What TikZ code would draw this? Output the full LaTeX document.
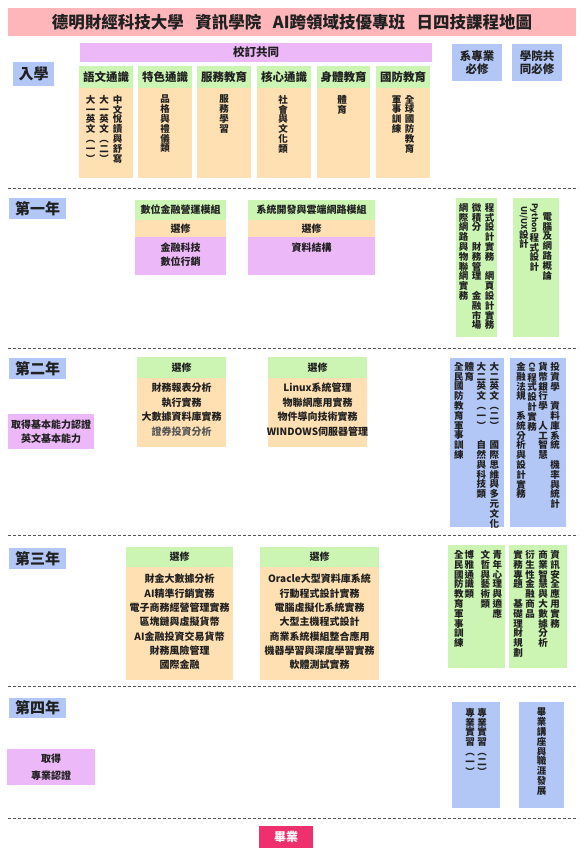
\documentclass[tikz,border=0pt]{standalone}
\usepackage{fontspec}
\setmainfont{Noto Sans CJK TC}
\usepackage{graphicx}
\definecolor{tpink}{HTML}{FFB6BA}
\definecolor{vio}{HTML}{EDB8F8}
\definecolor{grn}{HTML}{CCF5B4}
\definecolor{org}{HTML}{FFE0B2}
\definecolor{blu}{HTML}{B3C7F7}
\definecolor{gred}{HTML}{EE306E}
\definecolor{ink}{HTML}{202020}
\definecolor{sepgray}{HTML}{555555}
\makeatletter
\newcommand\rotL[1]{\rotatebox[origin=c]{-90}{\fontsize{8}{8}\selectfont #1}}
\newcommand\vcol[1]{\vtop{\baselineskip=9.8pt\lineskiplimit=0pt\lineskip=0.5pt\@tfor\vc@t:=#1\do{\hbox to 10pt{\hss\vc@t\hss}}}}
\makeatother
\newcommand\boxat[6]{\node[bx, fill=#2, minimum width={(#5-#3)*1pt}, minimum height={(#6-#4)*1pt}] (#1) at (#3,#4) {};}
\tikzset{
  bx/.style={draw=none, inner sep=0pt, outer sep=0pt, anchor=north west},
  txt/.style={inner sep=0pt, text=ink, align=center, font=\bfseries\fontsize{10}{14.3}\selectfont},
  hd/.style={txt, font=\bfseries\fontsize{11.5}{13}\selectfont},
  lab/.style={txt, font=\bfseries\fontsize{15}{18}\selectfont},
  vt/.style={inner sep=0pt, text=ink, anchor=north, font=\bfseries\fontsize{9.5}{10}\selectfont},
  sepline/.style={draw=sepgray, line width=0.8pt, dash pattern=on 3pt off 2pt}
}
\begin{document}
\begin{tikzpicture}[x=1pt,y=-1pt]
\useasboundingbox[fill=white] (0,0) rectangle (584,861);
% title
\boxat{titlebar}{tpink}{8}{8}{576}{36}
\node[txt, font=\bfseries\fontsize{16.5}{18}\selectfont] (title) at (titlebar.center) {德明財經科技大學\hspace{0.7em}資訊學院\hspace{0.7em}AI跨領域技優專班\hspace{0.7em}日四技課程地圖};
% entrance
\boxat{common}{vio}{80}{43}{432}{62}
\node[txt, font=\bfseries\fontsize{11.5}{13}\selectfont] (commont) at (common.center) {校訂共同};
\boxat{ruxue}{blu}{13}{62}{54}{86}
\node[lab] (ruxuet) at (ruxue.center) {入學};
\foreach \n/\a/\b/\t in {1/79/133/語文通識, 2/138/192/特色通識, 3/197/251/服務教育, 4/257/311/核心通識, 5/317/370/身體教育, 6/376/430/國防教育}{
  \boxat{h\n}{grn}{\a}{66}{\b}{88}
  \node[hd] (ht\n) at (h\n.center) {\t};
  \boxat{b\n}{org}{\a}{88}{\b}{178}
}
\node[vt] (v1) at (104,95) {\vcol{大一英文︵一︶}\kern3.5pt\vcol{大一英文︵二︶}\kern3.5pt\vcol{中文悅讀與舒寫}};
\node[vt] (v2) at (165,95) {\vcol{品格與禮儀類}};
\node[vt] (v3) at (224,95) {\vcol{服務學習}};
\node[vt] (v4) at (283,95) {\vcol{社會與文化類}};
\node[vt] (v5) at (342,95) {\vcol{體育}};
\node[vt] (v6) at (403,95) {\vcol{軍事訓練}\kern3pt\vcol{全球國防教育}};
\boxat{req1}{blu}{452}{44}{502}{81}
\node[hd] (req1t) at (req1.center) {系專業\\必修};
\boxat{req2}{blu}{512}{44}{562}{81}
\node[hd] (req2t) at (req2.center) {學院共\\同必修};
% separators
\foreach \yy in {188,348,535,686,818}{\draw[sepline] (8,\yy) -- (578,\yy);}
% year 1
\boxat{y1}{blu}{9}{198}{66}{219}
\node[lab] (y1t) at (y1.center) {第一年};
\boxat{m1h}{grn}{135}{200}{226}{220}
\node[txt] (m1ht) at (m1h.center) {數位金融營運模組};
\boxat{m1e}{org}{135}{220}{226}{237}
\node[txt] (m1et) at (m1e.center) {選修};
\boxat{m1b}{vio}{135}{237}{226}{275}
\node[txt, font=\bfseries\fontsize{10}{14}\selectfont, anchor=north] (m1bt) at (180.5,243) {金融科技\\數位行銷};
\boxat{m2h}{grn}{248}{200}{375}{220}
\node[txt] (m2ht) at (m2h.center) {系統開發與雲端網路模組};
\boxat{m2e}{org}{248}{220}{375}{237}
\node[txt] (m2et) at (m2e.center) {選修};
\boxat{m2b}{vio}{248}{237}{375}{275}
\node[txt, anchor=north] (m2bt) at (311.5,243) {資料結構};
\boxat{ra}{grn}{456}{198}{497}{337}
\node[vt] (rat) at (476.5,203) {\vcol{網際網路與物聯網實務}\kern3pt\vcol{微積分~財務管理~金融市場}\kern3pt\vcol{程式設計實務~網頁設計實務}};
\boxat{rb}{grn}{513}{198}{559}{337}
\node[vt] (rbt) at (535.5,203) {\vcol{{\rotL{UI/UX}}設計}\kern0.5pt\vcol{{\rotL{Python}}程式設計}\kern3pt\vcol{電腦及網路概論}};
% year 2
\boxat{y2}{blu}{9}{358}{66}{379}
\node[lab] (y2t) at (y2.center) {第二年};
\boxat{c2}{vio}{8}{414}{94}{449}
\node[txt, font=\bfseries\fontsize{10}{14}\selectfont] (c2t) at (c2.center) {取得基本能力認證\\英文基本能力};
\boxat{e1h}{grn}{137}{357}{226}{378}
\node[txt] (e1ht) at (e1h.center) {選修};
\boxat{e1b}{org}{137}{378}{226}{447}
\node[txt, font=\bfseries\fontsize{10}{14.5}\selectfont, anchor=north] (e1bt) at (181.5,383) {財務報表分析\\執行實務\\大數據資料庫實務\\\textcolor{ink!75}{證券投資分析}};
\boxat{e2h}{grn}{268}{357}{367}{378}
\node[txt] (e2ht) at (e2h.center) {選修};
\boxat{e2b}{org}{268}{378}{367}{447}
\node[txt, font=\bfseries\fontsize{10}{14.5}\selectfont, anchor=north] (e2bt) at (317.5,383) {Linux系統管理\\物聯網應用實務\\物件導向技術實務\\WINDOWS伺服器管理};
\boxat{rc}{blu}{450}{358}{504}{527}
\node[vt] (rct) at (476.5,362) {\vcol{全民國防教育軍事訓練}\kern0.5pt\vcol{體育}\kern2pt\vcol{大二英文︵一︶~自然與科技類}\kern3pt\vcol{大二英文︵二︶~國際思維與多元文化}};
\boxat{rd}{blu}{510}{358}{566}{527}
\node[vt] (rdt) at (538,362) {\vcol{金融法規~系統分析與設計實務}\kern1pt\vcol{{\rotL{C\#}}程式設計實務}\kern1pt\vcol{貨幣銀行學~人工智慧}\kern2pt\vcol{投資學~資料庫系統~機率與統計}};
% year 3
\boxat{y3}{blu}{9}{548}{66}{569}
\node[lab] (y3t) at (y3.center) {第三年};
\boxat{f1h}{grn}{126}{547}{233}{567}
\node[txt] (f1ht) at (f1h.center) {選修};
\boxat{f1b}{org}{126}{567}{233}{680}
\node[txt, anchor=north] (f1bt) at (179.5,574) {財金大數據分析\\AI精準行銷實務\\電子商務經營管理實務\\區塊鏈與虛擬貨幣\\AI金融投資交易貨幣\\財務風險管理\\國際金融};
\boxat{f2h}{grn}{260}{547}{379}{567}
\node[txt] (f2ht) at (f2h.center) {選修};
\boxat{f2b}{org}{260}{567}{379}{680}
\node[txt, anchor=north] (f2bt) at (319.5,574) {Oracle大型資料庫系統\\行動程式設計實務\\電腦虛擬化系統實務\\大型主機程式設計\\商業系統模組整合應用\\機器學習與深度學習實務\\軟體測試實務};
\boxat{re}{grn}{448}{545}{505}{668}
\node[vt] (ret) at (478,550) {\vcol{全民國防教育軍事訓練}\kern0.5pt\vcol{博雅通識類}\kern6pt\vcol{文哲與藝術類}\kern2pt\vcol{青年心理與適應}};
\boxat{rf}{grn}{509}{545}{567}{668}
\node[vt] (rft) at (536.5,550) {\vcol{實務專題~基礎理財規劃}\kern2pt\vcol{衍生性金融商品}\kern3pt\vcol{商業智慧與大數據分析}\kern2pt\vcol{資訊安全應用實務}};
% year 4
\boxat{y4}{blu}{9}{698}{66}{718}
\node[lab] (y4t) at (y4.center) {第四年};
\boxat{c4}{vio}{7}{749}{95}{785}
\node[txt, font=\bfseries\fontsize{10}{17}\selectfont] (c4t) at (c4.center) {取得\\專業認證};
\boxat{rg}{blu}{452}{702}{500}{808}
\node[vt] (rgt) at (476,708) {\vcol{專業實習︵一︶}\kern2pt\vcol{專業實習︵二︶}};
\boxat{rh}{blu}{519}{702}{564}{808}
\node[vt] (rht) at (541.5,708) {\vcol{畢業講座與職涯發展}};
% graduation
\boxat{grad}{gred}{259}{826}{313}{848}
\node[txt, text=white, font=\bfseries\fontsize{12}{14}\selectfont] (gradt) at (grad.center) {畢業};
\end{tikzpicture}
\end{document}
